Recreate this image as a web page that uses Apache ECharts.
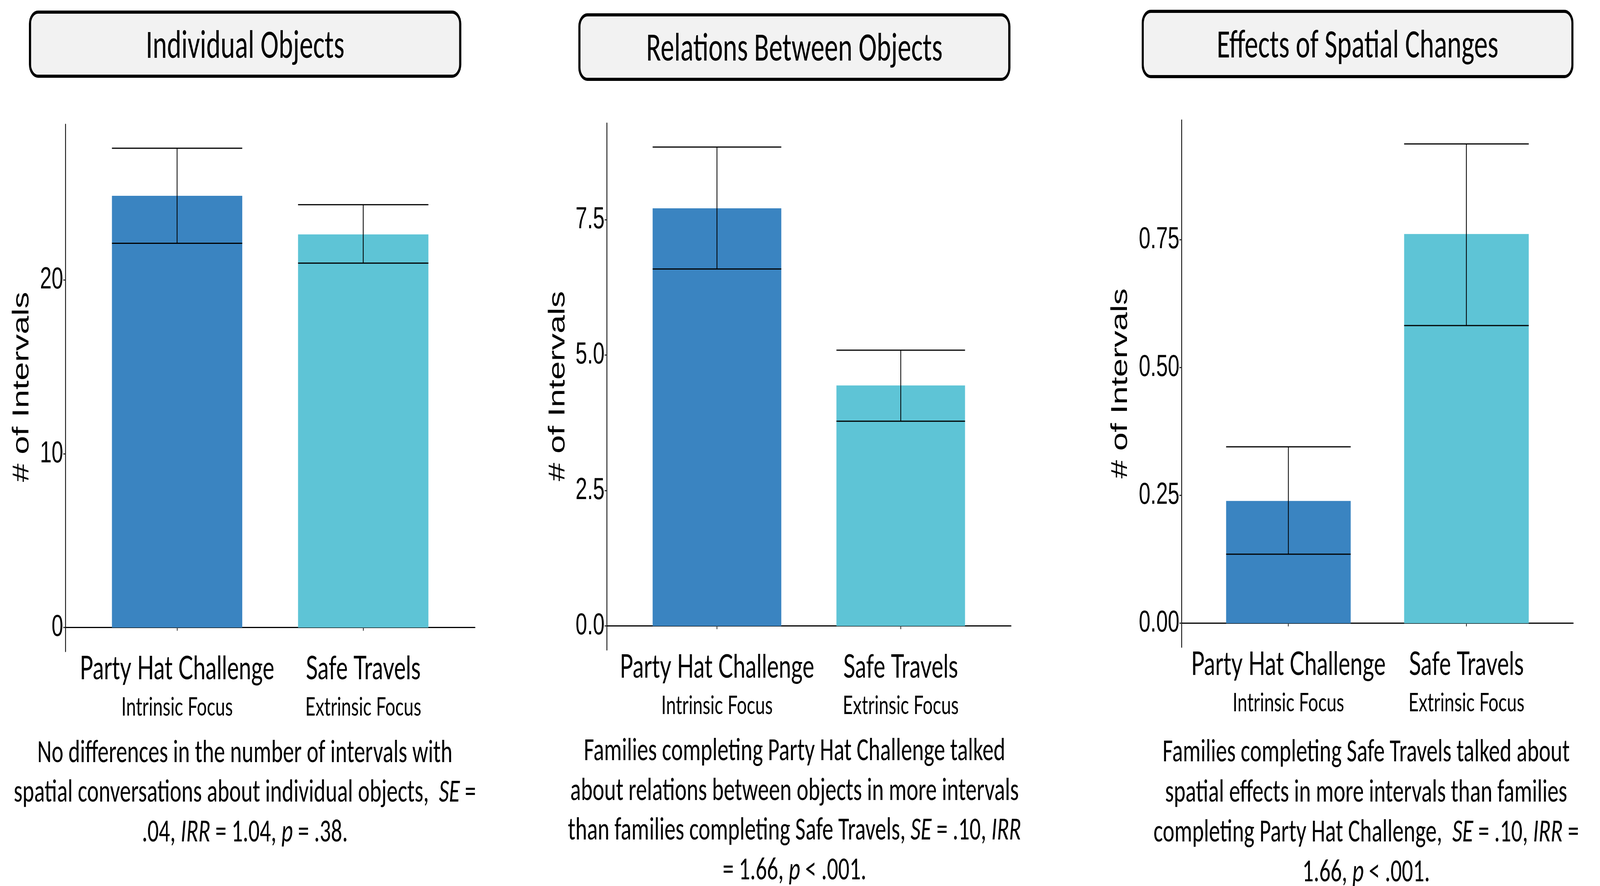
<!DOCTYPE html>
<html><head><meta charset="utf-8">
<script src="https://cdn.jsdelivr.net/npm/echarts@6/dist/echarts.min.js"></script>
<style>html,body{margin:0;padding:0;background:#fff;overflow:hidden}
#wrap{position:absolute;left:0;top:0;width:5973px;height:2267px;transform-origin:0 0}
#c{width:5973px;height:2267px}</style>
</head><body><div id="wrap"><div id="c"></div></div>
<script>
// ---- data ----
const categories = ['Party Hat Challenge', 'Safe Travels'];
const subLabels = ['Intrinsic Focus', 'Extrinsic Focus'];
const panelTitles = ['Individual Objects', 'Relations Between Objects', 'Effects of Spatial Changes'];
const yAxisTitle = '# of Intervals';

const yTicks1 = [0, 10, 20];
const yTickLabels1 = ['0', '10', '20'];
const yTicks2 = [0, 2.5, 5, 7.5];
const yTickLabels2 = ['0.0', '2.5', '5.0', '7.5'];
const yTicks3 = [0, 0.25, 0.5, 0.75];
const yTickLabels3 = ['0.00', '0.25', '0.50', '0.75'];

const means1 = [24.85, 22.63];
const lower1 = [22.12, 20.98];
const upper1 = [27.59, 24.34];

const means2 = [7.71, 4.44];
const lower2 = [6.59, 3.78];
const upper2 = [8.84, 5.09];

const means3 = [0.239, 0.761];
const lower3 = [0.135, 0.582];
const upper3 = [0.345, 0.937];

const captions1 = [
  'No differences in the number of intervals with',
  'spatial conversations about individual objects,  {i|SE} =',
  '.04, {i|IRR} = 1.04, {i|p} = .38.'
];
const captions2 = [
  'Families completing Party Hat Challenge talked',
  'about relations between objects in more intervals',
  'than families completing Safe Travels, {i|SE} = .10, {i|IRR}',
  '= 1.66, {i|p} < .001.'
];
const captions3 = [
  'Families completing Safe Travels talked about',
  'spatial effects in more intervals than families',
  'completing Party Hat Challenge,  {i|SE} = .10, {i|IRR} =',
  '1.66, {i|p} < .001.'
];

// ---- the page is laid out at the reference size and fitted to the window ----
const REF_W = 5973, REF_H = 2267;
document.getElementById('wrap').style.transform =
  'scale(' + (window.innerWidth / REF_W) + ',' + (window.innerHeight / REF_H) + ')';

// ---- styles / layout ----
const barColors = ['#3A84C1', '#5EC4D6'];
const BAR_HALF = 0.35;
const panels = [
  { means: means1, lower: lower1, upper: upper1, ticks: yTicks1, tickLabels: yTickLabels1, captions: captions1,
    grid: { left: 244, top: 318, width: 1529, height: 1349 },
    box: { x: 112, y: 31, w: 1606, h: 164 }, yTitle: [83, 990], capX: 914, capBase: [1952, 2053, 2155] },
  { means: means2, lower: lower2, upper: upper2, ticks: yTicks2, tickLabels: yTickLabels2, captions: captions2,
    grid: { left: 2265, top: 315, width: 1509, height: 1348 },
    box: { x: 2163, y: 38, w: 1605, h: 165 }, yTitle: [2084, 988], capX: 2966, capBase: [1947, 2049, 2150, 2252] },
  { means: means3, lower: lower3, upper: upper3, ticks: yTicks3, tickLabels: yTickLabels3, captions: captions3,
    grid: { left: 4411, top: 307, width: 1462, height: 1349 },
    box: { x: 4266, y: 29, w: 1604, h: 167 }, yTitle: [4184, 981], capX: 5100, capBase: [1950, 2053, 2155, 2257] }
];

const grids = [], xAxes = [], yAxes = [], series = [], graphics = [];

panels.forEach((p, k) => {
  const top = Math.max.apply(null, p.upper);
  grids.push(Object.assign({ containLabel: false }, p.grid));
  xAxes.push({
    type: 'value', gridIndex: k, min: 0.4, max: 2.6,
    splitLine: { show: false },
    axisLine: { show: true, lineStyle: { color: '#000', width: 3 } },
    axisTick: { show: true, customValues: [1, 2], length: 8, lineStyle: { color: '#333', width: 3 } },
    axisLabel: {
      show: true, customValues: [1, 2], margin: 2,
      formatter: v => '{a|' + categories[Math.round(v) - 1] + '}\n{b|' + subLabels[Math.round(v) - 1] + '}',
      rich: {
        a: { fontFamily: 'Lato', fontSize: 83, lineHeight: 84, color: '#000' },
        b: { fontFamily: 'Lato', fontSize: 66, lineHeight: 114, color: '#000' }
      }
    }
  });
  yAxes.push({
    type: 'value', gridIndex: k, min: -0.05 * top, max: 1.05 * top,
    splitLine: { show: false },
    axisLine: { show: true, lineStyle: { color: '#000', width: 3 } },
    axisTick: { show: true, customValues: p.ticks, length: 8, lineStyle: { color: '#333', width: 3 } },
    axisLabel: {
      show: true, customValues: p.ticks, margin: 8,
      fontFamily: 'Liberation Sans', fontSize: 78, color: '#000',
      formatter: v => { const i = p.ticks.findIndex(t => Math.abs(t - v) < 1e-9); return i >= 0 ? p.tickLabels[i] : ''; }
    }
  });
  series.push({
    type: 'custom', xAxisIndex: k, yAxisIndex: k, silent: true, z: 2,
    data: p.means.map((v, i) => [i + 1, v]),
    renderItem: (params, api) => {
      const x = api.value(0), v = api.value(1);
      const a = api.coord([x - BAR_HALF, v]);
      const b = api.coord([x + BAR_HALF, 0]);
      return { type: 'rect', shape: { x: a[0], y: a[1], width: b[0] - a[0], height: b[1] - a[1] },
               style: { fill: barColors[params.dataIndex] } };
    }
  });
  series.push({
    type: 'custom', xAxisIndex: k, yAxisIndex: k, silent: true, z: 3,
    data: p.lower.map((lo, i) => [i + 1, lo, p.upper[i]]),
    renderItem: (params, api) => {
      const x = api.value(0), lo = api.value(1), hi = api.value(2);
      const tl = api.coord([x - BAR_HALF, hi]), tr = api.coord([x + BAR_HALF, hi]);
      const bl = api.coord([x - BAR_HALF, lo]), br = api.coord([x + BAR_HALF, lo]);
      const tm = api.coord([x, hi]), bm = api.coord([x, lo]);
      const st = { stroke: '#000', lineWidth: 3 };
      return { type: 'group', children: [
        { type: 'line', shape: { x1: tl[0], y1: tl[1], x2: tr[0], y2: tr[1] }, style: st },
        { type: 'line', shape: { x1: bl[0], y1: bl[1], x2: br[0], y2: br[1] }, style: st },
        { type: 'line', shape: { x1: tm[0], y1: tm[1], x2: bm[0], y2: bm[1] }, style: st }
      ] };
    }
  });
  // title box
  graphics.push({
    type: 'rect', z: 10, silent: true,
    shape: { x: p.box.x, y: p.box.y, width: p.box.w, height: p.box.h, r: 30 },
    style: { fill: '#F2F2F2', stroke: '#000', lineWidth: 8 }
  });
  graphics.push({
    type: 'text', z: 11, silent: true, x: p.box.x + p.box.w / 2, y: p.box.y + p.box.h / 2 + 9,
    style: { text: panelTitles[k], fontFamily: 'Carlito', fontSize: 102, fill: '#000', align: 'center', verticalAlign: 'middle' }
  });
  // y axis title
  graphics.push({
    type: 'text', z: 11, silent: true, x: p.yTitle[0], y: p.yTitle[1], rotation: Math.PI / 2,
    style: { text: yAxisTitle, fontFamily: 'Liberation Sans', fontSize: 85, fill: '#000', align: 'center', verticalAlign: 'middle' }
  });
  // captions
  p.captions.forEach((line, j) => {
    graphics.push({
      type: 'text', z: 11, silent: true, x: p.capX, y: p.capBase[j] - 23,
      style: {
        text: line, fontFamily: 'Carlito', fontSize: 83, fill: '#000', align: 'center', verticalAlign: 'middle',
        rich: { i: { fontFamily: 'Carlito', fontSize: 83, fontStyle: 'italic', fill: '#000' } }
      }
    });
  });
});

const chart = echarts.init(document.getElementById('c'), null, { renderer: 'canvas', width: REF_W, height: REF_H });
chart.setOption({
  animation: false,
  backgroundColor: '#fff',
  grid: grids, xAxis: xAxes, yAxis: yAxes, series: series,
  graphic: { elements: graphics }
});
</script></body></html>
